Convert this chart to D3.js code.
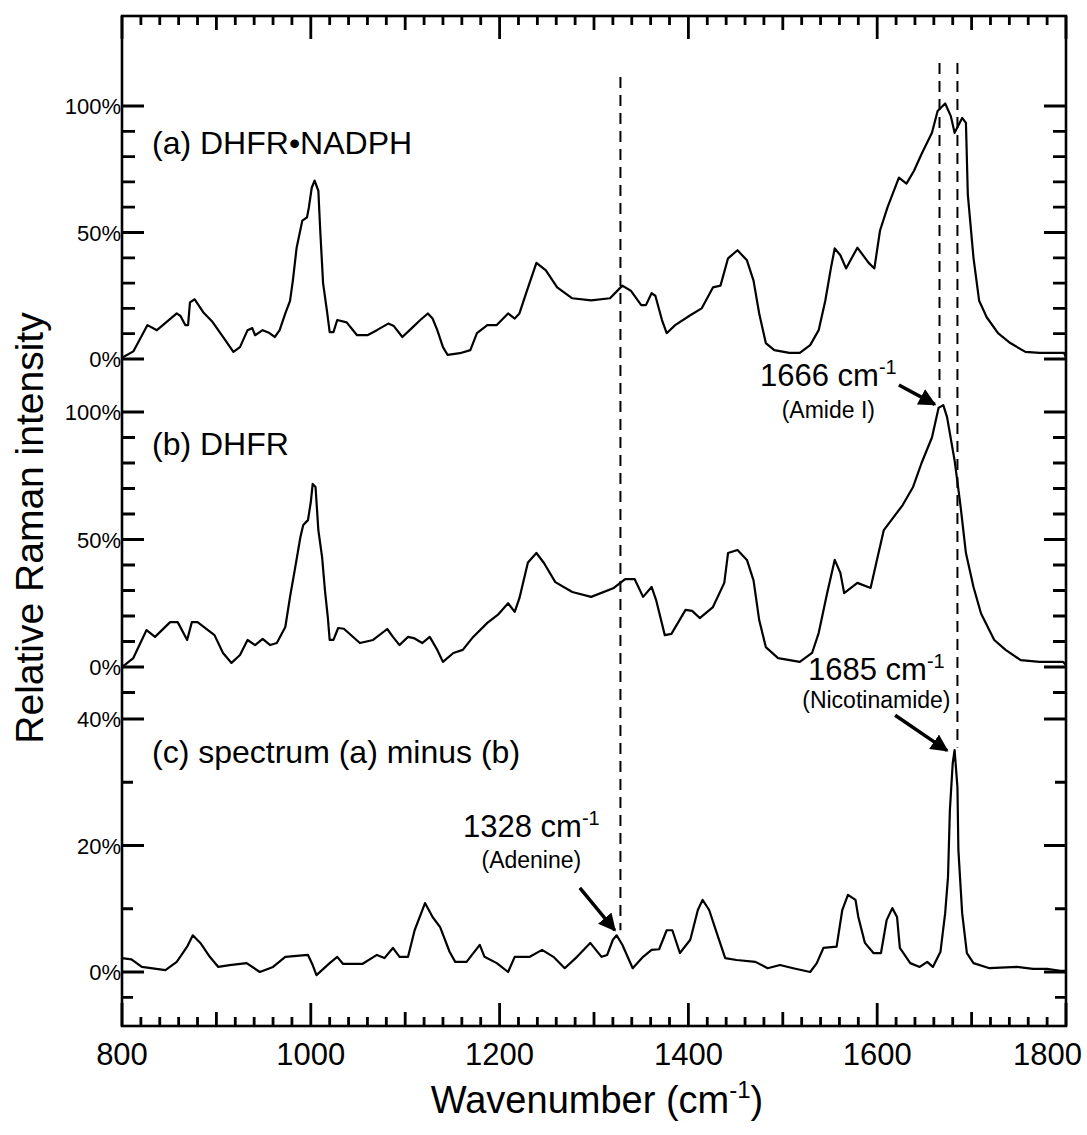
<!DOCTYPE html>
<html>
<head>
<meta charset="utf-8">
<script src="https://cdn.jsdelivr.net/npm/d3@7"></script>
<style>
  body { margin: 0; background: #fff; }
  text { font-family: "Liberation Sans", Arial, Helvetica, sans-serif; fill: #000; }
</style>
</head>
<body>
<div id="app"></div>
<script>
// spectrum (a) DHFR.NADPH : wavenumber / relative intensity (%)
const wnA = [800, 812, 827, 837, 858, 862, 867, 870, 872, 877, 886, 896, 907, 918, 925, 933, 938, 941, 949, 955, 962, 967, 973, 978, 981, 985, 991, 996, 998, 1001, 1004, 1008, 1010, 1013, 1017, 1020, 1024, 1028, 1038, 1049, 1060, 1070, 1082, 1088, 1097, 1107, 1116, 1124, 1129, 1134, 1140, 1145, 1158, 1169, 1176, 1187, 1197, 1209, 1216, 1221, 1229, 1239, 1249, 1261, 1277, 1297, 1317, 1330, 1339, 1350, 1355, 1361, 1365, 1372, 1377, 1386, 1402, 1414, 1426, 1434, 1442, 1452, 1462, 1469, 1475, 1482, 1491, 1507, 1518, 1529, 1538, 1545, 1551, 1555, 1561, 1567, 1579, 1591, 1597, 1603, 1611, 1623, 1631, 1639, 1647, 1658, 1664, 1672, 1678, 1682, 1690, 1694, 1696, 1702, 1708, 1716, 1728, 1741, 1757, 1772, 1798, 1800];
const valA = [0.5, 3, 13.4, 11.4, 18, 17, 13.4, 13.4, 22.4, 23.6, 18.5, 14.6, 8.7, 2.8, 4.7, 11.4, 12.2, 9.4, 11.4, 10.5, 8.7, 11.4, 18, 23, 31, 44, 54.7, 56, 60, 67.7, 70.5, 66.5, 50.8, 30, 19.3, 10.6, 10.6, 15.4, 14.5, 9.4, 9.4, 11.4, 14, 13, 8.7, 12.2, 15.4, 18, 16, 11.4, 4.7, 1.6, 2.3, 3.5, 10.2, 13.4, 13.4, 18, 16, 18, 27, 38, 35, 28.3, 24, 23.2, 24, 29, 27, 21.3, 21.3, 26, 25, 15.4, 10.2, 13.4, 17.3, 20, 28.3, 29, 39.8, 43, 39, 31, 18, 6.3, 3.5, 2.4, 2.4, 5.5, 11.4, 23, 36, 43.7, 41, 35.8, 44, 38, 35.8, 50.8, 60, 71.7, 69.3, 74.4, 81, 89.4, 98, 101, 96, 89.4, 95.3, 93.3, 65, 40, 23, 16.5, 10.2, 6.3, 2.8, 2.4, 2.4, 0.5];

// spectrum (b) DHFR
const wnB = [800, 803, 812, 826, 835, 851, 859, 869, 874, 880, 898, 907, 916, 925, 933, 941, 949, 957, 964, 973, 978, 983, 989, 992, 997, 1000, 1002, 1005, 1008, 1012, 1015, 1018, 1020, 1024, 1029, 1035, 1052, 1066, 1081, 1087, 1094, 1103, 1110, 1118, 1126, 1134, 1140, 1151, 1161, 1172, 1187, 1198, 1209, 1216, 1221, 1230, 1239, 1247, 1259, 1277, 1297, 1321, 1333, 1343, 1352, 1361, 1366, 1375, 1382, 1397, 1404, 1412, 1426, 1438, 1442, 1452, 1462, 1469, 1475, 1482, 1495, 1518, 1531, 1538, 1547, 1555, 1561, 1565, 1579, 1593, 1599, 1607, 1615, 1627, 1638, 1647, 1658, 1665, 1670, 1674, 1682, 1688, 1694, 1702, 1710, 1724, 1736, 1752, 1772, 1797, 1800];
const valB = [0.5, 0.8, 3.5, 14.5, 11.8, 17.6, 17.6, 10.6, 17.6, 17.6, 12.5, 5.5, 1.6, 4.7, 10.6, 8.6, 11, 8.6, 9.4, 15.7, 27.5, 38, 51, 55.7, 57.6, 64.7, 71.8, 70.6, 53.7, 43, 30, 19.6, 10.6, 10.6, 15.3, 15, 9.4, 10.6, 14.9, 11.8, 8.6, 11.8, 11.2, 9.4, 11.8, 6.7, 2, 5.5, 6.7, 11.8, 17.3, 20.4, 25, 21.6, 27, 41, 44.7, 40.8, 33.3, 29.4, 27.5, 31, 34.5, 34.5, 27.5, 31.4, 26, 12.5, 13, 22.4, 22, 19.2, 23.5, 33, 44.7, 45.9, 42, 34, 18.4, 7.8, 3.5, 2, 5.5, 13.3, 29, 42, 36.9, 29, 33, 31, 40.8, 53.7, 57.6, 63.5, 70.6, 80, 90, 101.6, 102.7, 98, 81, 64, 44.7, 31.4, 21, 10.6, 6.7, 2.7, 2, 2, 0.8];

// spectrum (c) = (a) minus (b)
const wnC = [800, 810, 821, 846, 858, 869, 875, 883, 893, 902, 914, 932, 946, 960, 973, 997, 1002, 1006, 1020, 1028, 1034, 1055, 1070, 1078, 1087, 1094, 1103, 1110, 1121, 1129, 1137, 1147, 1153, 1165, 1179, 1184, 1197, 1209, 1216, 1232, 1245, 1257, 1269, 1282, 1296, 1308, 1314, 1320, 1324, 1330, 1341, 1352, 1361, 1369, 1377, 1383, 1391, 1402, 1410, 1415, 1422, 1430, 1439, 1451, 1471, 1484, 1497, 1511, 1529, 1536, 1543, 1557, 1563, 1569, 1577, 1580, 1587, 1596, 1604, 1610, 1616, 1621, 1624, 1635, 1645, 1653, 1659, 1667, 1672, 1675, 1677, 1680, 1682, 1685, 1686, 1690, 1695, 1702, 1719, 1748, 1765, 1780, 1794, 1800];
const valC = [2.2, 2, 0.8, 0.3, 1.6, 4, 5.8, 4.6, 2.4, 0.8, 1.1, 1.4, 0, 0.8, 2.4, 2.7, 1.1, -0.5, 1.4, 2.4, 1.3, 1.3, 2.7, 2.2, 3.8, 2.4, 2.4, 6.6, 10.9, 8.7, 7.1, 3.2, 1.6, 1.6, 4.3, 2.4, 1.4, 0, 2.4, 2.4, 3.5, 2.4, 0.6, 2.4, 4.6, 2.4, 2.7, 5.1, 5.8, 4.3, 0.6, 2.4, 3.5, 3.6, 6.6, 6.6, 3, 5.1, 9.8, 11.4, 9.8, 6.2, 2.2, 1.9, 1.6, 0.6, 1.1, 0.6, 0, 1.4, 3.8, 4, 9.8, 12.2, 11.4, 8.7, 4.6, 3, 3, 8.2, 10.1, 8.7, 3.8, 1.4, 0.8, 1.6, 0.8, 3.2, 9.3, 15, 25.6, 33, 35.1, 29.2, 19.3, 9.3, 3, 1.4, 0.6, 0.8, 0.5, 0.5, 0.2, 0.2];

// axis ticks
const xLabels = [800, 1000, 1200, 1400, 1600, 1800];
const abTicks = [0, 10, 20, 30, 40, 50, 60, 70, 80, 90, 100];
const abMajor = [0, 50, 100];
const cTicks = [-4, 0, 10, 20, 30, 40];
const cMajor = [0, 20, 40];

// panel labels
const panelNames = ['(a) DHFR\u2022NADPH', '(b) DHFR', '(c) spectrum (a) minus (b)'];

// vertical marker lines: wavenumber, top (% of a), bottom panel, bottom value
const markWn = [1328, 1666, 1685];
const markTop = [111.5, 117, 117];
const markBotPanel = ['c', 'b', 'c'];
const markBotVal = [6.6, 103, 35.5];

const W = 1087, H = 1135;
const svg = d3.select('#app').append('svg').attr('width', W).attr('height', H);

const x = d3.scaleLinear().domain([800, 1800]).range([122, 1066]);
const yA = d3.scaleLinear().domain([0, 100]).range([359, 106]);
const yB = d3.scaleLinear().domain([0, 100]).range([667, 412]);
const yC = d3.scaleLinear().domain([0, 40]).range([972, 719]);
const yOf = { a: yA, b: yB, c: yC };
const frameTop = 16, frameBottom = 1026;

// frame
svg.append('rect')
  .attr('x', x(800)).attr('y', frameTop)
  .attr('width', x(1800) - x(800)).attr('height', frameBottom - frameTop)
  .attr('fill', 'none').attr('stroke', '#000').attr('stroke-width', 2.6);

// tick marks, collected into one path
let tickPath = '';
const xMinor = d3.range(800, 1801, 20);
const xMid = d3.range(900, 1801, 200);
function xTicks(vals, len) {
  vals.forEach(v => {
    tickPath += `M${x(v)},${frameBottom}V${frameBottom - len}`;
    tickPath += `M${x(v)},${frameTop}V${frameTop + len}`;
  });
}
function yTicks(scale, vals, len) {
  vals.forEach(v => {
    tickPath += `M${x(800)},${scale(v)}H${x(800) + len}`;
    tickPath += `M${x(1800)},${scale(v)}H${x(1800) - len}`;
  });
}
xTicks(xMinor, 9);
xTicks(xMid, 14);
xTicks(xLabels, 23);
yTicks(yA, abTicks, 13);
yTicks(yA, abMajor, 22);
yTicks(yB, [-10].concat(abTicks), 13);
yTicks(yB, abMajor, 22);
yTicks(yC, cTicks, 11);
yTicks(yC, cMajor, 22);
svg.append('path')
  .attr('d', tickPath)
  .attr('fill', 'none')
  .attr('stroke', '#000')
  .attr('stroke-width', 2.8);

svg.append('g').selectAll('text')
  .data(xLabels).enter().append('text')
  .attr('x', (d, i) => i === xLabels.length - 1 ? x(d) + 16 : x(d))
  .attr('y', 1065)
  .attr('text-anchor', (d, i) => i === xLabels.length - 1 ? 'end' : 'middle')
  .attr('font-size', '31px')
  .text(d => d);

function yLabels(scale, vals) {
  svg.append('g').selectAll('text')
    .data(vals).enter().append('text')
    .attr('x', x(800) - 1)
    .attr('y', d => scale(d) + 8)
    .attr('text-anchor', 'end')
    .attr('font-size', '22px')
    .text(d => d + '%');
}
yLabels(yA, abMajor);
yLabels(yB, abMajor);
yLabels(yC, cMajor);

// dashed marker lines
svg.append('g').selectAll('line')
  .data(markWn).enter().append('line')
  .attr('x1', d => x(d)).attr('x2', d => x(d))
  .attr('y1', (d, i) => yA(markTop[i]))
  .attr('y2', (d, i) => yOf[markBotPanel[i]](markBotVal[i]))
  .attr('stroke', '#000').attr('stroke-width', 2)
  .attr('stroke-dasharray', '11,7');

// spectra
const spectra = [
  { wn: wnA, val: valA, y: yA },
  { wn: wnB, val: valB, y: yB },
  { wn: wnC, val: valC, y: yC }
];
spectra.forEach(s => {
  const line = d3.line().x(d => x(d[0])).y(d => s.y(d[1]));
  svg.append('path')
    .datum(d3.zip(s.wn, s.val))
    .attr('d', line)
    .attr('fill', 'none')
    .attr('stroke', '#000')
    .attr('stroke-width', 2.2)
    .attr('stroke-linejoin', 'round');
});

// panel labels
const panelY = [154, 455, 763];
svg.append('g').selectAll('text')
  .data(panelNames).enter().append('text')
  .attr('x', 152).attr('y', (d, i) => panelY[i])
  .attr('font-size', '32px')
  .text(d => d);

// arrows
const defs = svg.append('defs');
defs.append('marker')
  .attr('id', 'head').attr('viewBox', '0 0 10 10')
  .attr('refX', 9).attr('refY', 5)
  .attr('markerWidth', 5).attr('markerHeight', 5)
  .attr('orient', 'auto')
  .append('path').attr('d', 'M0,0 L10,5 L0,10 Z').attr('fill', '#000');

const arrows = [
  { from: [1285, 'c', 13.3], to: [1322, 'c', 6.6] },
  { from: [1623, 'b', 110.6], to: [1661, 'b', 103] },
  { from: [1619, 'c', 40.6], to: [1674, 'c', 35] }
];
svg.append('g').selectAll('line')
  .data(arrows).enter().append('line')
  .attr('x1', d => x(d.from[0])).attr('y1', d => yOf[d.from[1]](d.from[2]))
  .attr('x2', d => x(d.to[0])).attr('y2', d => yOf[d.to[1]](d.to[2]))
  .attr('stroke', '#000').attr('stroke-width', 3.5)
  .attr('marker-end', 'url(#head)');

// peak annotations
const notes = [
  { num: '1328 cm', name: '(Adenine)', x: 463, y1: 837, y2: 868 },
  { num: '1666 cm', name: '(Amide I)', x: 760, y1: 386, y2: 418 },
  { num: '1685 cm', name: '(Nicotinamide)', x: 808, y1: 680, y2: 708 }
];
notes.forEach(n => {
  const t = svg.append('text').attr('x', n.x).attr('y', n.y1).attr('font-size', '31px');
  t.append('tspan').text(n.num);
  t.append('tspan').attr('font-size', '20px').attr('dy', -12).text('-1');
  const w = t.node().getComputedTextLength();
  svg.append('text')
    .attr('x', n.x + w / 2).attr('y', n.y2)
    .attr('text-anchor', 'middle')
    .attr('font-size', '23px')
    .text(n.name);
});

// axis titles
const xt = svg.append('text')
  .attr('x', 597).attr('y', 1113)
  .attr('text-anchor', 'middle')
  .attr('font-size', '38px');
xt.append('tspan').text('Wavenumber (cm');
xt.append('tspan').attr('font-size', '24px').attr('dy', -15).text('-1');
xt.append('tspan').attr('dy', 15).text(')');

svg.append('text')
  .attr('transform', 'translate(43,528) rotate(-90)')
  .attr('text-anchor', 'middle')
  .attr('font-size', '39px')
  .text('Relative Raman intensity');
</script>
</body>
</html>
